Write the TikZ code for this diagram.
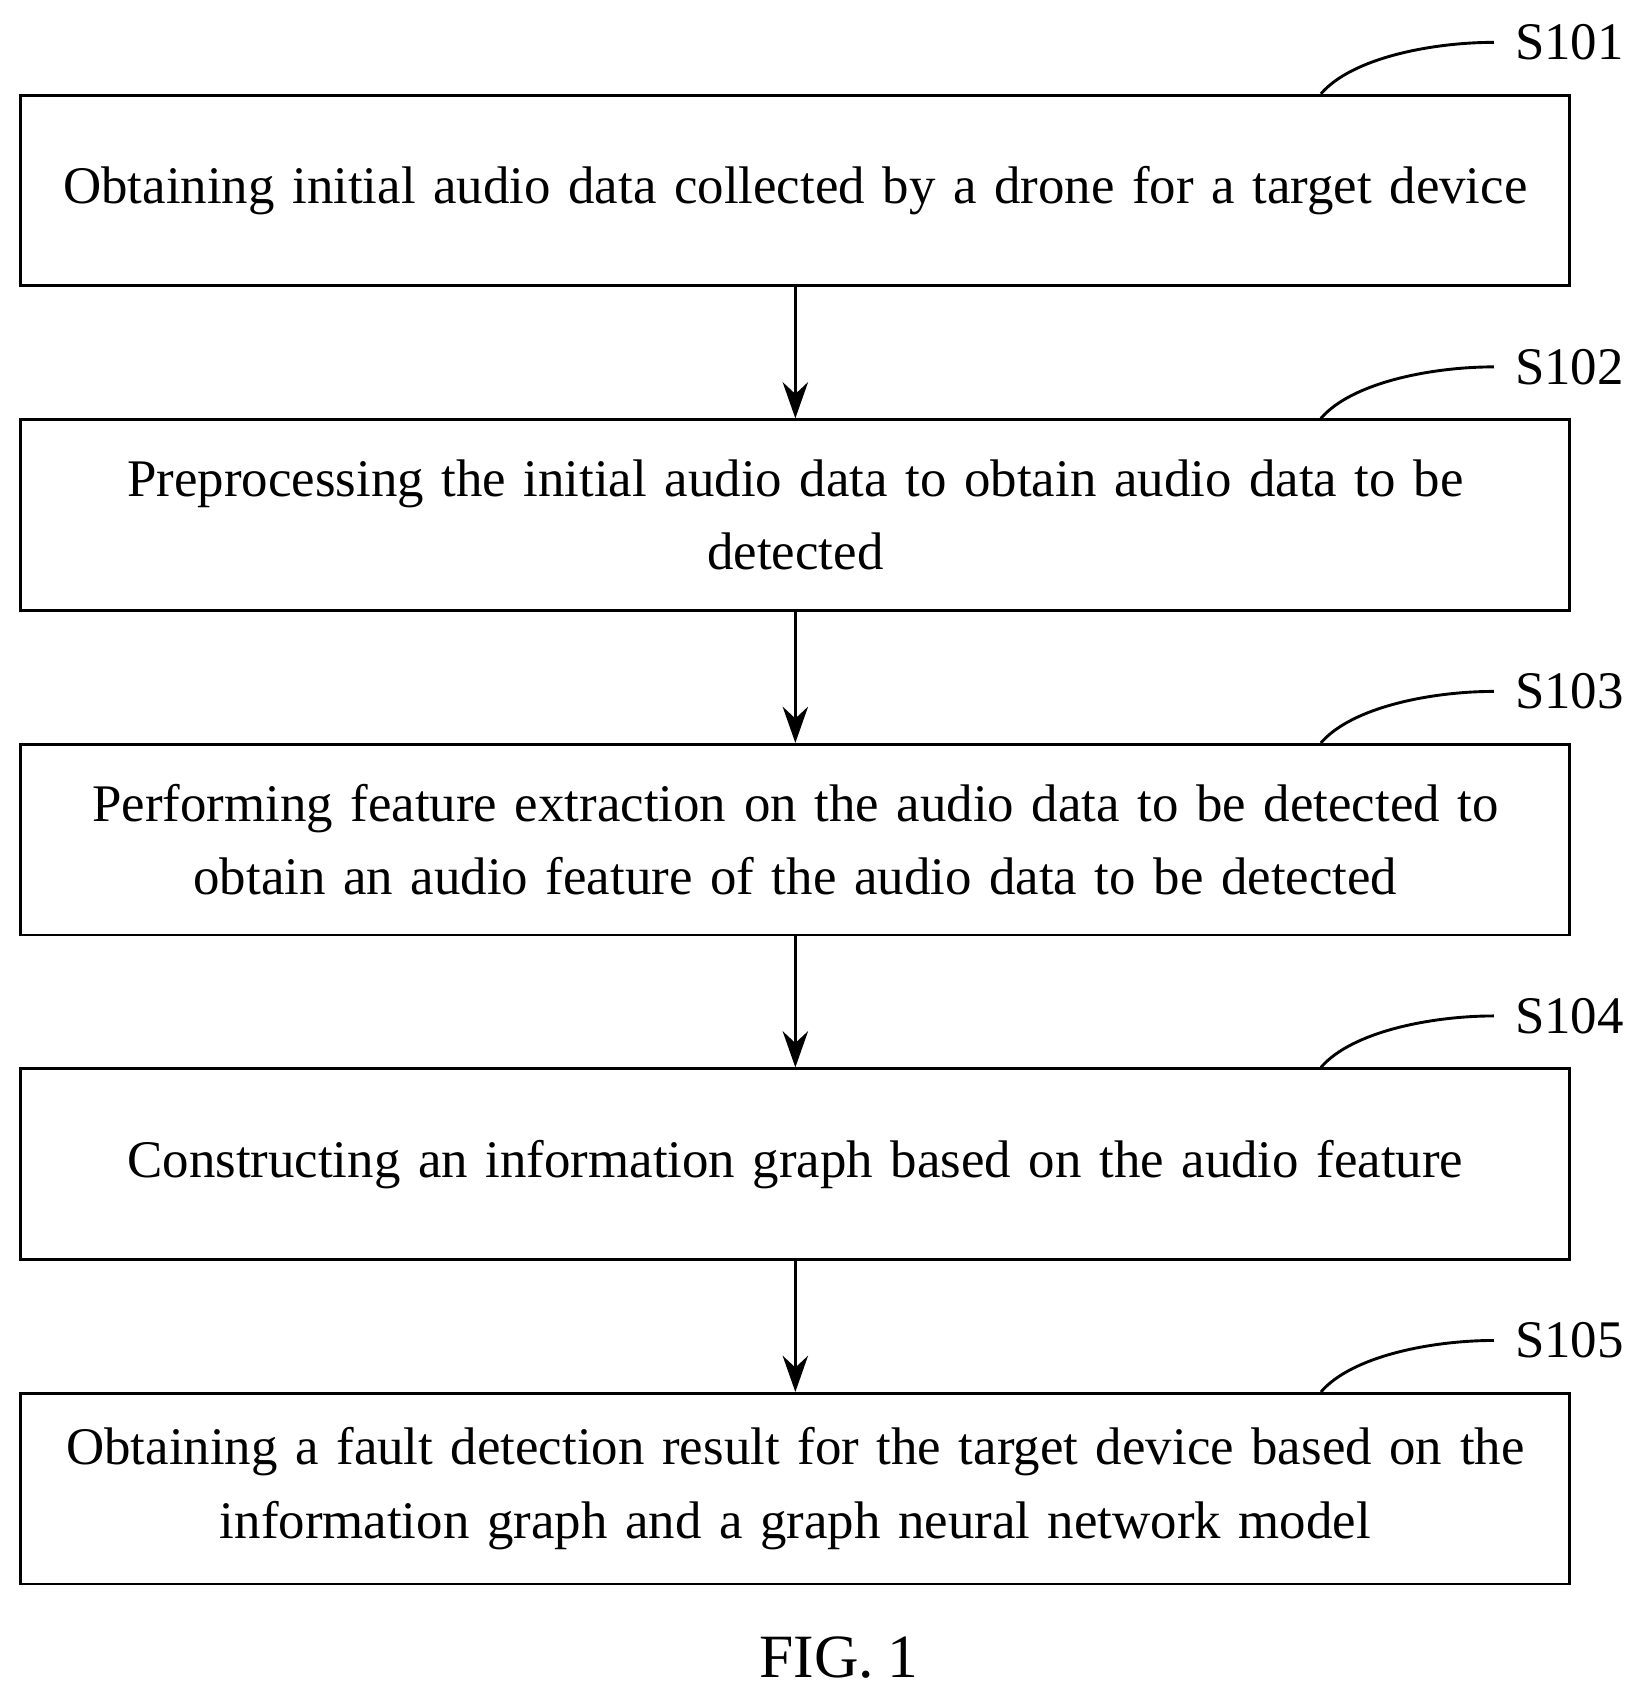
\documentclass[tikz,border=0pt]{standalone}
\usepackage{fontspec}
\setmainfont{Liberation Serif}[WordSpace=0.85]
\usetikzlibrary{arrows.meta,positioning}
\tikzstyle{stepNode} = [rectangle, draw=black, thick, minimum width=15.02cm, minimum height=1.85cm, text width=14.8cm, align=center, font=\fontsize{14.6}{20.3}\selectfont]
\tikzstyle{arrow} = [thick,-{Stealth[length=10pt,width=7pt]},draw=black]
\tikzstyle{tagLine} = [thick]
\tikzstyle{tagText} = [anchor=west, xshift=0.08cm, font=\fontsize{14.6}{16}\selectfont]
\begin{document}
\begin{tikzpicture}[node distance=3.15cm]
    \useasboundingbox (0,0) rectangle (16,-16.53);
    \node (s101) [stepNode] at (7.72,-1.85) {Obtaining initial audio data collected by a drone for a target device};
    \node (s102) [stepNode, below of=s101] {Preprocessing the initial audio data to obtain audio data to be\\ detected};
    \node (s103) [stepNode, below of=s102] {Performing feature extraction on the audio data to be detected to\\ obtain an audio feature of the audio data to be detected};
    \node (s104) [stepNode, below of=s103] {Constructing an information graph based on the audio feature};
    \node (s105) [stepNode, below of=s104] {Obtaining a fault detection result for the target device based on the\\ information graph and a graph neural network model};

    \draw [arrow] (s101) -- (s102);
    \draw [arrow] (s102) -- (s103);
    \draw [arrow] (s103) -- (s104);
    \draw [arrow] (s104) -- (s105);

    % step tags
    \foreach \s/\t in {s101/S101, s102/S102, s103/S103, s104/S104, s105/S105} {
        \coordinate (\s a) at ([xshift=-2.43cm]\s.north east);
        \coordinate (\s b) at ([xshift=-0.75cm, yshift=0.5cm]\s.north east);
        \draw [tagLine] (\s a) .. controls +(0.3,0.35) and +(-0.6,0) .. (\s b);
        \node [tagText] at (\s b) {\t};
    }

    \node (fig) [font=\fontsize{17}{20}\selectfont] at (8.14,-16.09) {FIG. 1};
\end{tikzpicture}
\end{document}
